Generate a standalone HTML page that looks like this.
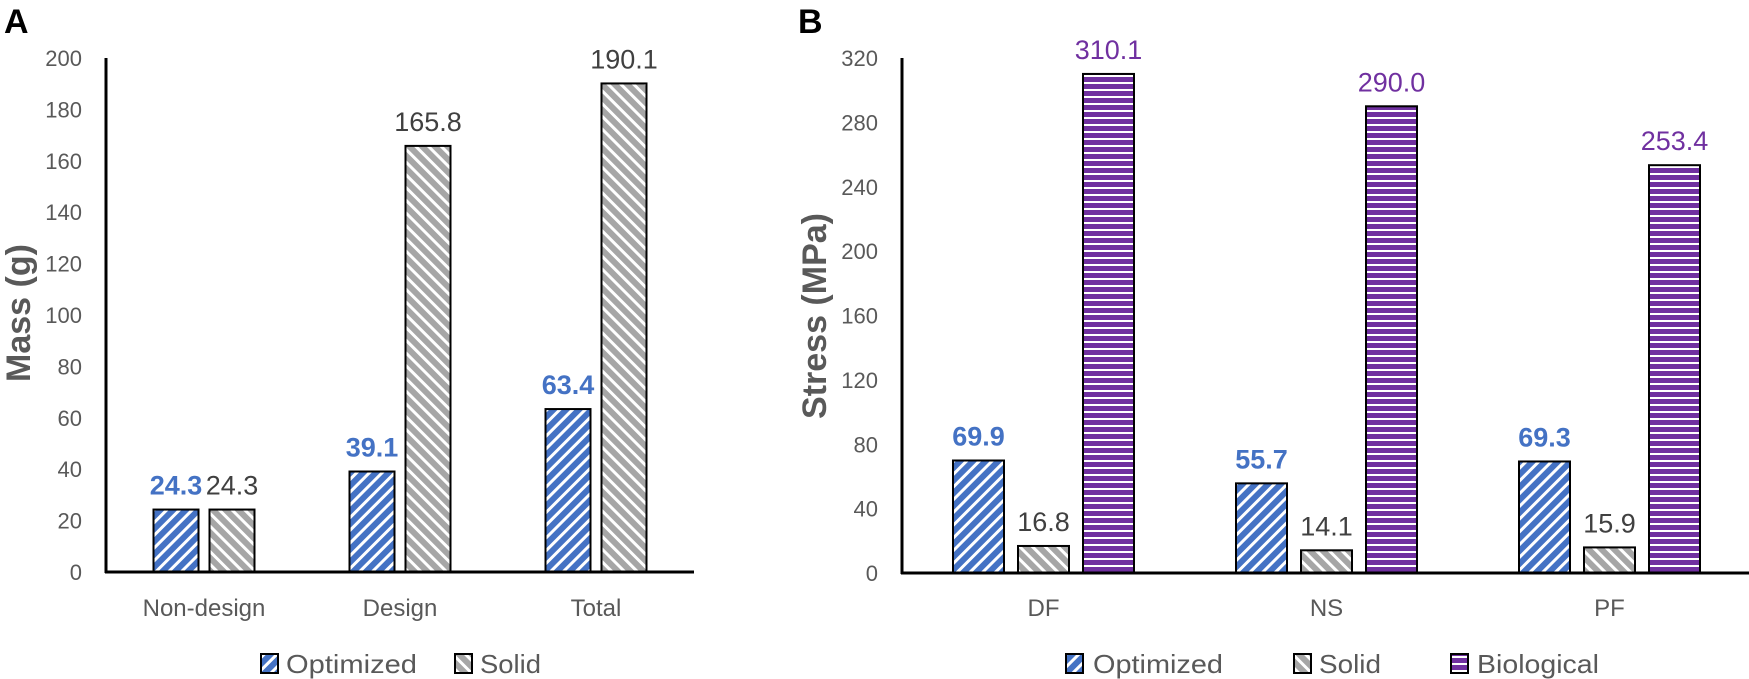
<!DOCTYPE html>
<html><head><meta charset="utf-8"><style>
html,body{margin:0;padding:0;background:#fff;}
svg{display:block;font-family:"Liberation Sans",sans-serif;}
</style></head><body>
<svg id="svg" width="1749" height="679" viewBox="0 0 1749 679">
<defs>
<pattern id="pOpt" patternUnits="userSpaceOnUse" width="9" height="9" patternTransform="rotate(45)">
<rect width="9" height="9" fill="#4472C4"/><rect width="3" height="9" fill="#fff"/></pattern>
<pattern id="pSol" patternUnits="userSpaceOnUse" width="9" height="9" patternTransform="rotate(-45)">
<rect width="9" height="9" fill="#A6A6A6"/><rect width="3" height="9" fill="#fff"/></pattern>
<pattern id="pBio" patternUnits="userSpaceOnUse" width="10" height="7">
<rect width="10" height="7" fill="#7030A0"/><rect y="5" width="10" height="2" fill="#fff"/></pattern>
</defs>
<g id="gA"></g>
<g id="gB"></g>
</svg>
<script>
const catsA = ["Non-design","Design","Total"];
const optA = [24.3, 39.1, 63.4];
const solA = [24.3, 165.8, 190.1];
const ticksA = [0,20,40,60,80,100,120,140,160,180,200];
const catsB = ["DF","NS","PF"];
const optB = [69.9, 55.7, 69.3];
const solB = [16.8, 14.1, 15.9];
const bioB = [310.1, 290.0, 253.4];
const ticksB = [0,40,80,120,160,200,240,280,320];

const NS="http://www.w3.org/2000/svg";
function mk(parent, tag, attrs, text){
  const e=document.createElementNS(NS,tag);
  for(const k in attrs) e.setAttribute(k,attrs[k]);
  if(text!==undefined) e.textContent=text;
  parent.appendChild(e); return e;
}
function drawChart(g, cfg){
  const y=v=>cfg.y0-(v-0)/cfg.max*(cfg.y0-cfg.yTop);
  const x=i=>cfg.x0+(i+0.5)*cfg.step;
  cfg.ticks.forEach(t=>{
    const e=mk(g,'text',{x:cfg.tickX,y:y(t)+8,'text-anchor':'end','font-size':22,fill:'#595959'},t);
    
    
  });
  const n=cfg.series.length;
  cfg.cats.forEach((c,i)=>{
    const cx=x(i);
    const totalW=n*cfg.bw+(n-1)*cfg.gap;
    cfg.series.forEach((s,j)=>{
      const v=s.vals[i];
      const bx=cx-totalW/2+j*(cfg.bw+cfg.gap);
      const r=mk(g,'rect',{x:bx,y:y(v),width:cfg.bw,height:y(0)-y(v),fill:s.fill,stroke:'#000','stroke-width':2});
      
      
      const lb=mk(g,'text',{x:bx+cfg.bw/2,y:y(v)-15,'text-anchor':'middle','font-size':27,fill:s.color,'font-weight':s.bold?'bold':'normal'},v.toFixed(1));
      
      
    });
    const cl=mk(g,'text',{x:cx,y:616,'text-anchor':'middle','font-size':24,fill:'#595959'},c);
    
    
  });
  const ax=mk(g,'line',{x1:cfg.x0,y1:cfg.yTop,x2:cfg.x0,y2:cfg.y0+1,stroke:'#000','stroke-width':3});
  
  
  const bx=mk(g,'line',{x1:cfg.x0-1,y1:cfg.y0,x2:cfg.x0+cfg.step*cfg.cats.length,y2:cfg.y0,stroke:'#000','stroke-width':3});
  
  
  const tt=mk(g,'text',{x:0,y:0,'text-anchor':'middle','font-size':34,'font-weight':'bold',fill:'#595959',transform:`translate(${cfg.titleX},${cfg.titleY}) rotate(-90)`},cfg.title);
  
  
  const pl=mk(g,'text',{x:cfg.panelX,y:33,'font-size':34,'font-weight':'bold',fill:'#000'},cfg.panel);
  
  
  cfg.series.forEach((s,j)=>{
    const lg=cfg.legend[j];
    const r=mk(g,'rect',{x:lg[0],y:654,width:17,height:19,fill:s.fill,stroke:'#000','stroke-width':2});
    
    
    const t=mk(g,'text',{x:lg[1],y:673,'font-size':26,fill:'#595959',textLength:lg[2],lengthAdjust:'spacingAndGlyphs'},s.name);
    
    
  });
}
drawChart(document.getElementById('gA'),{
  cats:catsA,ticks:ticksA,max:200,x0:106,y0:572,yTop:58,step:196,bw:45,gap:11,tickX:82,
  title:'Mass (g)',titleX:30,titleY:313,panel:'A',panelX:4,
  legend:[[261,286,131],[455,480,61]],
  series:[{key:'optimized',name:'Optimized',vals:optA,fill:'url(#pOpt)',color:'#4472C4',bold:true},
          {key:'solid',name:'Solid',vals:solA,fill:'url(#pSol)',color:'#404040'}]
});
drawChart(document.getElementById('gB'),{
  cats:catsB,ticks:ticksB,max:320,x0:902,y0:573,yTop:58,step:283,bw:51,gap:14,tickX:878,
  title:'Stress (MPa)',titleX:826,titleY:316,panel:'B',panelX:798,
  legend:[[1066,1093,130],[1294,1319,62],[1451,1477,122]],
  series:[{key:'optimized',name:'Optimized',vals:optB,fill:'url(#pOpt)',color:'#4472C4',bold:true},
          {key:'solid',name:'Solid',vals:solB,fill:'url(#pSol)',color:'#404040'},
          {key:'biological',name:'Biological',vals:bioB,fill:'url(#pBio)',color:'#7030A0'}]
});
</script>
</body></html>
